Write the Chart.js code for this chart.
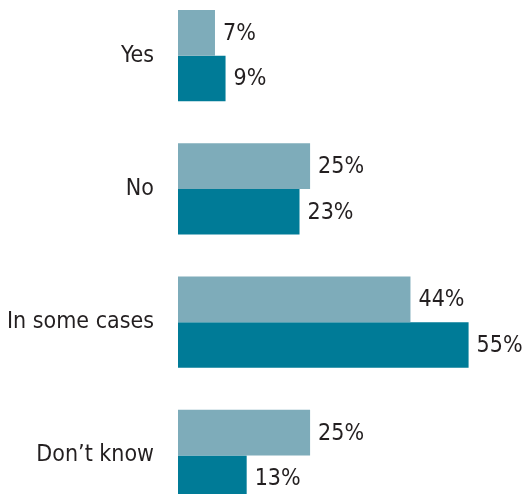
<!DOCTYPE html>
<html>
<head>
<meta charset="utf-8">
<script src="https://cdn.jsdelivr.net/npm/chart.js@4/dist/chart.umd.min.js"></script>
<style>
  html, body { margin: 0; padding: 0; background: #fff; overflow: hidden; }
  #chart_area { position: absolute; left: 0; top: -11px; }
</style>
</head>
<body>
<canvas id="chart_area" width="524" height="533"></canvas>
<script>
"use strict"
var categories = ["Yes", "No", "In some cases", "Don\u2019t know"];
var firstValues = [7, 25, 44, 25];
var secondValues = [9, 23, 55, 13];

var lightColor = "#7eacba";
var darkColor = "#007b97";
var textColor = "#231f20";
var fontFamily = "'DejaVu Sans Condensed', 'DejaVu Sans', sans-serif";

// draws the "%" labels at the end of each bar
var valueLabels = {
    id: 'valueLabels',
    afterDatasetsDraw: function(chart){
        var ctx = chart.ctx;
        ctx.save();
        ctx.font = "23px " + fontFamily;
        ctx.fillStyle = textColor;
        ctx.textAlign = "left";
        ctx.textBaseline = "middle";
        chart.data.datasets.forEach(function(ds, i){
            var meta = chart.getDatasetMeta(i);
            meta.data.forEach(function(bar, j){
                ctx.fillText(ds.data[j] + "%", bar.x + 8, bar.y + 1);
            });
        });
        ctx.restore();
    }
};

var chartArea = document.getElementById("chart_area");
var barChart = new Chart(chartArea, {
    type: 'bar',
    data: {
        labels: categories,
        datasets: [
            {
                label: "First",
                data: firstValues,
                backgroundColor: lightColor,
                borderWidth: 0,
                categoryPercentage: 0.685,
                barPercentage: 1
            },
            {
                label: "Second",
                data: secondValues,
                backgroundColor: darkColor,
                borderWidth: 0,
                categoryPercentage: 0.685,
                barPercentage: 1
            }
        ]
    },
    options: {
        indexAxis: 'y',
        responsive: false,
        animation: false,
        devicePixelRatio: 1,
        layout: { padding: { left: 0, right: 29, top: 0, bottom: 0 } },
        plugins: {
            legend: { display: false },
            tooltip: { enabled: false }
        },
        scales: {
            x: {
                display: false,
                min: 0,
                max: 60
            },
            y: {
                offset: true,
                grid: { display: false, drawTicks: false },
                border: { display: false },
                ticks: {
                    color: textColor,
                    padding: 24,
                    font: { family: fontFamily, size: 23 }
                },
                afterFit: function(scale){
                    scale.width = 178;
                    // labels sit inside the category band, no extra room needed
                    scale.paddingTop = 0;
                    scale.paddingBottom = 0;
                }
            }
        }
    },
    plugins: [valueLabels]
});
</script>
</body>
</html>
